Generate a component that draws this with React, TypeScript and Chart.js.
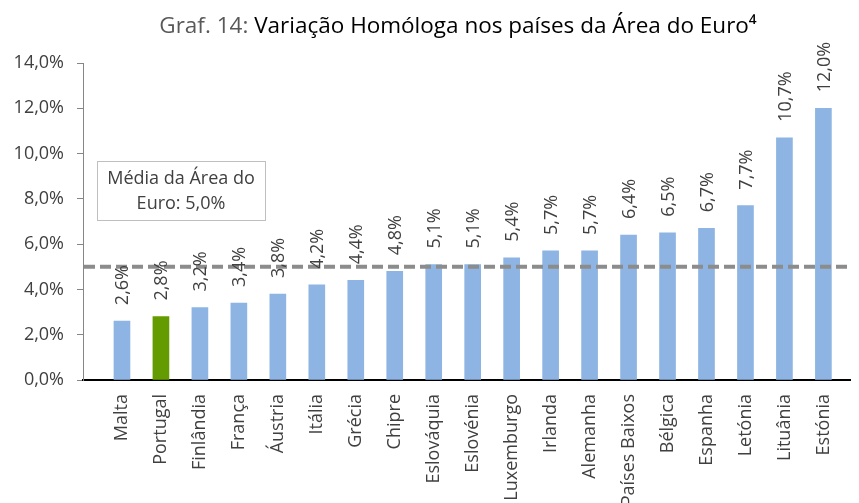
import React, { useEffect, useRef } from 'react';
import { Chart, registerables } from 'chart.js';

Chart.register(...registerables);

const categories = [
  'Malta', 'Portugal', 'Finlândia', 'França', 'Áustria', 'Itália', 'Grécia', 'Chipre',
  'Eslováquia', 'Eslovénia', 'Luxemburgo', 'Irlanda', 'Alemanha', 'Países Baixos',
  'Bélgica', 'Espanha', 'Letónia', 'Lituânia', 'Estónia',
];
const values = [2.6, 2.8, 3.2, 3.4, 3.8, 4.2, 4.4, 4.8, 5.1, 5.1, 5.4, 5.7, 5.7, 6.4, 6.5, 6.7, 7.7, 10.7, 12.0];
const highlighted = 'Portugal';
const euroAverage = 5.0;
const yMin = 0;
const yMax = 14;
const yStep = 2;
const titlePrefix = 'Graf. 14: ';
const titleMain = 'Variação Homóloga nos países da Área do Euro⁴';
const legendLines = ['Média da Área do', 'Euro: 5,0%'];

const FONT = '"Open Sans", "DejaVu Sans", sans-serif';
const BLUE = '#8DB4E2';
const GREEN = '#649B00';
const TEXT = '#404040';

const fmt = (v: number) => v.toFixed(1).replace('.', ',') + '%';

const titlePlugin = {
  id: 'twoToneTitle',
  afterDraw(chart: any) {
    const ctx = chart.ctx;
    ctx.save();
    ctx.font = `22.5px ${FONT}`;
    ctx.textBaseline = 'alphabetic';
    ctx.textAlign = 'left';
    const w1 = ctx.measureText(titlePrefix).width;
    const w2 = ctx.measureText(titleMain).width;
    const x0 = 458 - (w1 + w2) / 2;
    ctx.fillStyle = '#595959';
    ctx.fillText(titlePrefix, x0, 33);
    ctx.fillStyle = '#000000';
    ctx.fillText(titleMain, x0 + w1, 33);
    ctx.restore();
  },
};

const averagePlugin = {
  id: 'averageLine',
  afterDatasetsDraw(chart: any) {
    const { ctx, chartArea, scales } = chart;
    const y = scales.y.getPixelForValue(euroAverage);
    ctx.save();
    ctx.strokeStyle = '#8C8C8C';
    ctx.lineWidth = 4;
    ctx.setLineDash([11, 5]);
    ctx.beginPath();
    ctx.moveTo(chartArea.left + 1, y);
    ctx.lineTo(chartArea.right, y);
    ctx.stroke();
    ctx.restore();

    // data labels
    const meta = chart.getDatasetMeta(0);
    ctx.save();
    ctx.font = `18px ${FONT}`;
    ctx.fillStyle = TEXT;
    ctx.textAlign = 'left';
    ctx.textBaseline = 'middle';
    meta.data.forEach((el: any, i: number) => {
      ctx.save();
      ctx.translate(el.x + 1, el.y - 16);
      ctx.rotate(-Math.PI / 2);
      ctx.fillText(fmt(values[i]), 0, 0);
      ctx.restore();
    });
    ctx.restore();
  },
};

const legendBoxPlugin = {
  id: 'legendBox',
  afterDraw(chart: any) {
    const ctx = chart.ctx;
    const left = 97, top = 161, w = 168, h = 59;
    ctx.save();
    ctx.fillStyle = '#FFFFFF';
    ctx.fillRect(left, top, w, h);
    ctx.strokeStyle = '#BFBFBF';
    ctx.lineWidth = 1;
    ctx.strokeRect(left + 0.5, top + 0.5, w, h);
    ctx.font = `18px ${FONT}`;
    ctx.fillStyle = TEXT;
    ctx.textAlign = 'center';
    ctx.textBaseline = 'middle';
    legendLines.forEach((line, i) => {
      ctx.fillText(line, left + w / 2, top + 18 + i * 25);
    });
    ctx.restore();
  },
};

export default function App() {
  const ref = useRef<HTMLCanvasElement | null>(null);

  useEffect(() => {
    document.body.style.margin = '0';
    const canvas = ref.current;
    if (!canvas) return;
    const chart = new Chart(canvas, {
      type: 'bar',
      data: {
        datasets: [
          {
            data: values.map((v, i) => ({ x: i, y: v })),
            backgroundColor: categories.map((c) => (c === highlighted ? GREEN : BLUE)),
            borderWidth: 0,
            barThickness: 16,
          },
        ],
      },
      options: {
        responsive: false,
        animation: false,
        layout: { padding: { top: 63, left: 0, right: 0, bottom: 0 } },
        plugins: {
          legend: { display: false },
          tooltip: { enabled: false },
          title: { display: false },
        },
        scales: {
          x: {
            type: 'linear',
            offset: false,
            min: -1,
            max: 18.7,
            grid: { display: false, drawTicks: false, offset: false },
            border: { display: true, color: '#000000', width: 2 },
            ticks: {
              stepSize: 1,
              includeBounds: false,
              autoSkip: false,
              minRotation: 90,
              maxRotation: 90,
              padding: 14,
              color: TEXT,
              font: { family: FONT, size: 18 },
              callback: (value: any) => {
                const v = Number(value);
                return Number.isInteger(v) && v >= 0 && v < categories.length ? categories[v] : '';
              },
            },
            afterFit: (scale: any) => {
              scale.height = 123;
            },
          },
          y: {
            min: yMin,
            max: yMax,
            grid: { drawOnChartArea: false, drawTicks: true, tickLength: 6, color: '#868686' },
            border: { display: true, color: '#868686', width: 1 },
            ticks: {
              stepSize: yStep,
              padding: 13,
              color: TEXT,
              font: { family: FONT, size: 18 },
              callback: (value: any) => fmt(Number(value)),
            },
            afterFit: (scale: any) => {
              scale.width = 83;
            },
          },
        },
      },
      plugins: [averagePlugin, legendBoxPlugin, titlePlugin],
    } as any);
    return () => chart.destroy();
  }, []);

  return (
    <div style={{ width: 859, height: 503, position: 'relative', overflow: 'hidden' }}>
      <canvas ref={ref} width={859} height={503} style={{ display: 'block', width: 859, height: 503 }} />
    </div>
  );
}
